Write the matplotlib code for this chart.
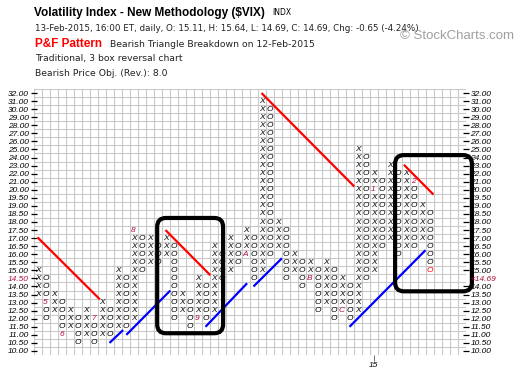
import numpy as np
import matplotlib.pyplot as plt
from matplotlib.patches import FancyBboxPatch

# point & figure columns (X first, then alternating), price range of each column
col_lo = [13.5, 12.0, 12.5, 11.0, 11.5, 10.5, 11.0, 10.5, 11.0, 11.0,
          11.5, 11.5, 12.0, 15.0, 15.5, 15.5, 16.0, 12.0, 12.5, 11.5,
          12.0, 12.0, 12.5, 14.5, 15.0, 15.5, 16.0, 14.5, 15.0, 16.0,
          16.5, 14.5, 15.0, 14.0, 14.5, 12.5, 13.0, 12.0, 12.5, 12.0,
          12.5, 14.5, 15.0, 16.5, 17.0, 16.0, 16.5, 16.5, 17.0, 15.0]
col_hi = [15.0, 14.5, 13.5, 13.0, 12.5, 12.0, 12.5, 12.0, 13.0, 12.5,
          15.0, 14.5, 17.5, 17.0, 17.0, 16.5, 17.0, 16.5, 13.5, 13.0,
          14.5, 14.0, 16.5, 16.0, 17.0, 16.5, 17.5, 17.0, 31.0, 30.0,
          18.0, 17.5, 16.0, 15.5, 15.5, 15.0, 15.5, 15.0, 14.5, 14.0,
          25.0, 24.0, 22.0, 21.0, 23.0, 22.0, 22.0, 21.0, 19.0, 18.5]

# month markers (column, price, label)
month_col = [1, 3, 7, 12, 20, 26, 34, 38, 42, 47]
month_price = [13.0, 11.0, 12.0, 17.5, 12.0, 16.0, 14.5, 12.5, 20.0, 21.0]
month_label = ['5', '6', '7', '8', '9', 'A', 'B', 'C', '1', '2']

price_levels = [32, 31, 30, 29, 28, 27, 26, 25, 24, 23, 22, 21, 20,
                19.5, 19, 18.5, 18, 17.5, 17, 16.5, 16, 15.5, 15, 14.5,
                14, 13.5, 13, 12.5, 12, 11.5, 11, 10.5, 10]
last_price = 14.69
prev_close = 14.5
year_col = 42
year_label = '15'

# trend lines: (col0, price0, col1, price1)
red_lines = [(0.0, 17.05, 7.8, 13.2), (16.0, 17.5, 21.6, 14.7),
             (28.0, 32.0, 39.6, 20.4), (45.8, 23.1, 49.5, 19.7)]
blue_lines = [(9.0, 10.5, 10.7, 11.3), (11.1, 11.0, 16.6, 13.75),
              (21.0, 11.5, 26.2, 14.2), (27.0, 14.0, 30.55, 15.75),
              (39.0, 11.5, 48.5, 16.25)]
# highlighted areas (col0, price0, col1, price1)
boxes = [(14.96, 11.1, 23.2, 18.25), (44.7, 13.7, 54.3, 24.3)]


def box(p):
    p = np.asarray(p, dtype=float)
    return np.where(p <= 20, 2 * (p - 10), p)


def box_prices(lo, hi):
    return list(range(int(box(lo)), int(box(hi)) + 1))


fig = plt.figure(figsize=(5.2, 3.78), dpi=100)
ax = fig.add_axes([33.5 / 520, 23 / 378, 432 / 520, 266 / 378])
ax.set_xlim(-0.5, 53.5)
ax.set_ylim(-0.5, 32.5)

ax.set_xticks(np.arange(-0.5, 54, 1), minor=True)
ax.set_yticks(np.arange(-0.5, 33, 1), minor=True)
ax.grid(which='minor', color='#c8c8c8', lw=0.75)
ax.tick_params(which='minor', length=0)
for s in ax.spines.values():
    s.set_visible(False)

crimson = '#b0103c'
lab_font = dict(fontsize=6, fontstyle='italic', family='Liberation Sans')
ax.set_yticks(box(price_levels))
ax.set_yticklabels(['%.2f' % v for v in price_levels], **lab_font)
for t, v in zip(ax.get_yticklabels(), price_levels):
    if v == prev_close:
        t.set_color(crimson)
ax.tick_params(axis='y', which='major', direction='inout', length=4, width=0.9, pad=1.5)
ax.set_xticks([year_col])
ax.set_xticklabels([year_label], **lab_font)
ax.tick_params(axis='x', which='major', direction='out', length=4, width=0.6, pad=1, color='#555555')

# right scale: the last price label takes the slot of the previous close
tw = ax.twinx()
tw.set_ylim(ax.get_ylim())
for s in tw.spines.values():
    s.set_visible(False)
rlabels = ['<%.2f' % last_price if v == prev_close else '%.2f' % v for v in price_levels]
tw.set_yticks(box(price_levels))
tw.set_yticklabels(rlabels, **lab_font)
tw.tick_params(axis='y', direction='inout', length=4, width=0.9, pad=1.5)
for t, tk, v in zip(tw.get_yticklabels(), tw.yaxis.get_major_ticks(), price_levels):
    if v == prev_close:
        t.set_color(crimson)
        tk.tick2line.set_visible(False)

# X and O boxes
marks = {(c, p): l for c, p, l in zip(month_col, box(month_price), month_label)}
for c in range(len(col_lo)):
    sym = 'X' if c % 2 == 0 else 'O'
    for b in box_prices(col_lo[c], col_hi[c]):
        txt, col = sym, 'black'
        if (c, b) in marks:
            txt, col = marks[(c, b)], crimson
        elif c == len(col_lo) - 1 and b == int(box(col_lo[c])):
            col = 'red'
        ax.text(c, b, txt, ha='center', va='center', fontsize=6, zorder=3,
                fontstyle='italic', family='Liberation Sans', color=col)

for x0, p0, x1, p1 in red_lines:
    ax.plot([x0, x1], box([p0, p1]), color='red', lw=1.6, solid_capstyle='butt', zorder=4)
for x0, p0, x1, p1 in blue_lines:
    ax.plot([x0, x1], box([p0, p1]), color='blue', lw=1.6, solid_capstyle='butt', zorder=4)
for x0, p0, x1, p1 in boxes:
    b0, b1 = box([p0, p1])
    ax.add_patch(FancyBboxPatch((x0, b0), x1 - x0, b1 - b0,
                                boxstyle='round,pad=0,rounding_size=1.1',
                                fill=False, ec='black', lw=3, clip_on=False,
                                zorder=5))


# header
def ftext(x, y, s, **kw):
    fig.text(x / 520, 1 - y / 378, s, va='baseline', **kw)


sub = dict(family='DejaVu Sans', color='#222222')
ftext(34, 16, 'Volatility Index - New Methodology ($VIX)', fontsize=8.5,
      fontweight='bold', family='Liberation Sans')
ftext(272, 15, 'INDX', fontsize=5.5, family='DejaVu Sans')
ftext(35, 31, '13-Feb-2015, 16:00 ET, daily, O: 15.11, H: 15.64, L: 14.69, C: 14.69, Chg: -0.65 (-4.24%)',
      fontsize=6.3, **sub)
ftext(35, 47, 'P&F Pattern', fontsize=8.5, fontweight='bold', color='red',
      family='Liberation Sans')
ftext(110, 47, 'Bearish Triangle Breakdown on 12-Feb-2015', fontsize=6.7, **sub)
ftext(35, 61, 'Traditional, 3 box reversal chart', fontsize=6.7, **sub)
ftext(35, 76, 'Bearish Price Obj. (Rev.): 8.0', fontsize=6.7, **sub)
ftext(400, 39, '\u00a9 StockCharts.com', fontsize=9.5, color='#a0a0a0',
      family='Liberation Sans')

fig.savefig('out.png', dpi=100)
